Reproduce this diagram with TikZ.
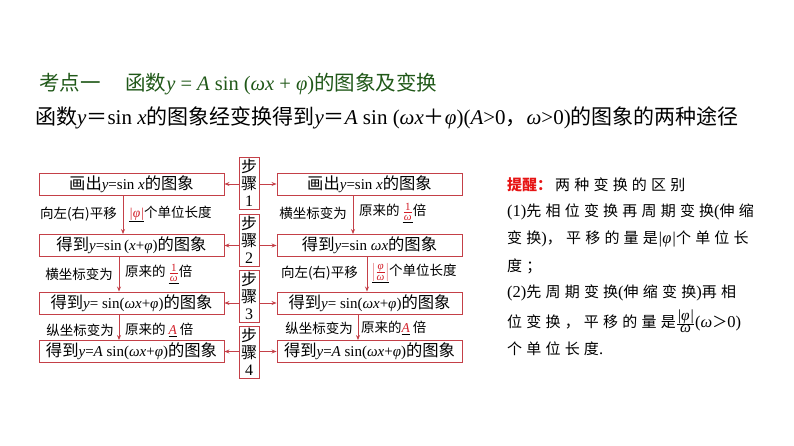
\documentclass[tikz,border=0pt]{standalone}
\usepackage{fontspec}
\setmainfont{Noto Sans CJK SC}
\newfontfamily\tnr{Liberation Serif}
\newfontfamily\tnrs[Scale=0.92]{Liberation Serif}
\newfontfamily\tnrh[Scale=1.1]{Liberation Serif}
\newfontfamily\hintfont[LetterSpace=28]{Noto Sans CJK SC}
\usetikzlibrary{arrows.meta}
\definecolor{boxred}{RGB}{196,64,72}
\definecolor{titlegreen}{RGB}{32,88,24}
\definecolor{hintred}{RGB}{230,20,20}
\definecolor{ansred}{RGB}{210,30,40}
\newcommand\Mi[1]{{\tnr\itshape #1}}
\newcommand\Mr[1]{{\tnr #1}}
\newcommand\ans[1]{\underline{\textcolor{ansred}{#1}}}
\newcommand\mfrac[2]{\frac{\hbox{\fontsize{11}{11}\selectfont #1}}{\hbox{\fontsize{11}{11}\selectfont #2}}}
\newcommand\smallfrac[2]{$\mfrac{#1}{#2}$}
\begin{document}
\begin{tikzpicture}[x=1pt,y=-1pt,
  box/.style={draw=boxred, line width=0.9pt, minimum width=185pt, minimum height=22pt, inner sep=0pt, font=\fontsize{16.3}{18}\selectfont\let\tnr\tnrs},
  stepbox/.style={draw=boxred, line width=0.9pt, minimum width=20pt, minimum height=52pt, inner sep=0pt, align=center, font=\fontsize{16}{16.8}\selectfont},
  arr/.style={draw=boxred, line width=0.8pt, -{Stealth[length=5pt,width=4pt]}},
  lab/.style={inner sep=0pt, font=\fontsize{13.5}{15}\selectfont},
  hint/.style={inner sep=0pt, anchor=west, font=\hintfont\fontsize{15}{17}\selectfont\let\tnr\tnrh}]
\useasboundingbox (0,0) rectangle (794,446);

% title and subtitle
\node[anchor=west, inner sep=0pt, text=titlegreen, font=\fontsize{20.5}{24}\selectfont] (title) at (39,84)
  {考点一\hspace{1.2em}函数\Mi{y}\Mr{ = }\Mi{A}\Mr{ sin (}\Mi{ωx}\Mr{ + }\Mi{φ}\Mr{)}的图象及变换};
\node[anchor=west, inner sep=0pt, font=\fontsize{21}{24}\selectfont] (sub) at (35,118)
  {函数\Mi{y}＝\Mr{sin }\Mi{x}的图象经变换得到\Mi{y}＝\Mi{A}\Mr{ sin (}\Mi{ωx}＋\Mi{φ}\Mr{)(}\Mi{A}\Mr{>0}，\Mi{ω}\Mr{>0)}的图象的两种途径};

% left column
\node[box] (L1) at (131.5,184) {画出\Mi{y}\Mr{=sin }\Mi{x}的图象};
\node[box] (L2) at (131.5,245.5) {得到\Mi{y}\Mr{=sin\,(}\Mi{x}\Mr{+}\Mi{φ}\Mr{)}的图象};
\node[box] (L3) at (131.5,303) {得到\Mi{y}\Mr{= sin(}\Mi{ωx}\Mr{+}\Mi{φ}\Mr{)}的图象};
\node[box] (L4) at (131.5,351.5) {得到\Mi{y}\Mr{=}\Mi{A}\Mr{ sin(}\Mi{ωx}\Mr{+}\Mi{φ}\Mr{)}的图象};

% right column
\node[box] (R1) at (369.5,184) {画出\Mi{y}\Mr{=sin }\Mi{x}的图象};
\node[box] (R2) at (369.5,245.5) {得到\Mi{y}\Mr{=sin }\Mi{ωx}的图象};
\node[box] (R3) at (369.5,303) {得到\Mi{y}\Mr{= sin(}\Mi{ωx}\Mr{+}\Mi{φ}\Mr{)}的图象};
\node[box] (R4) at (369.5,351.5) {得到\Mi{y}\Mr{=}\Mi{A}\Mr{ sin(}\Mi{ωx}\Mr{+}\Mi{φ}\Mr{)}的图象};

% step boxes
\node[stepbox] (S1) at (249,183) {步\\骤\\\Mr{1}};
\node[stepbox] (S2) at (249,240) {步\\骤\\\Mr{2}};
\node[stepbox] (S3) at (249,296) {步\\骤\\\Mr{3}};
\node[stepbox] (S4) at (249,352) {步\\骤\\\Mr{4}};

\foreach \i in {1,2,3,4}{
  \draw[arr] (S\i.west |- L\i.east) -- (L\i.east);
  \draw[arr] (S\i.east |- R\i.west) -- (R\i.west);
}

% vertical arrows
\coordinate (xa) at (123,0);
\coordinate (xb) at (119,0);
\coordinate (xc) at (353,0);
\coordinate (xd) at (367,0);
\coordinate (xe) at (358,0);
\draw[arr] (L1.south -| xa) -- (L2.north -| xa);
\draw[arr] (L2.south -| xb) -- (L3.north -| xb);
\draw[arr] (L3.south -| xb) -- (L4.north -| xb);
\draw[arr] (R1.south -| xc) -- (R2.north -| xc);
\draw[arr] (R2.south -| xd) -- (R3.north -| xd);
\draw[arr] (R3.south -| xe) -- (R4.north -| xe);

% labels left column
\node[lab, anchor=east] (la1) at (117,214) {向左(右)平移};
\node[lab, anchor=west] (lb1) at (129,214) {\ans{\Mi{|φ|}}个单位长度};
\node[lab, anchor=east] (la2) at (113,274) {横坐标变为};
\node[lab, anchor=west] (lb2) at (125,274) {原来的 \ans{\smallfrac{\Mr{1}}{\Mi{ω}}}倍};
\node[lab, anchor=east] (la3) at (114,330) {纵坐标变为};
\node[lab, anchor=west] (lb3) at (125,330) {原来的 \ans{\Mi{A}} 倍};

% labels right column
\node[lab, anchor=east] (ra1) at (347,213) {横坐标变为};
\node[lab, anchor=west] (rb1) at (359,213) {原来的 \ans{\smallfrac{\Mr{1}}{\Mi{ω}}}倍};
\node[lab, anchor=east] (ra2) at (358,273) {向左(右)平移};
\node[lab, anchor=west] (rb2) at (372,273) {\ans{\color{ansred}$\left|\mfrac{\Mi{φ}}{\Mi{ω}}\right|$}个单位长度};
\node[lab, anchor=east] (ra3) at (353,328) {纵坐标变为};
\node[lab, anchor=west] (rb3) at (361,328) {原来的\ans{\Mi{A}} 倍};

% hint text
\node[hint] (h1) at (507,185) {{\color{hintred}\fontspec{Noto Sans CJK SC}\bfseries 提醒：}\hspace{3pt}两种变换的区别};
\node[hint] (h2) at (507,212) {\Mr{(1)}先相位变换再周期变换\Mr{(}伸缩};
\node[hint] (h3) at (507,239) {变换\Mr{)}，平移的量是\Mi{|φ|}个单位长};
\node[hint] (h4) at (507,266) {度；};
\node[hint] (h5) at (507,293) {\Mr{(2)}先周期变换\Mr{(}伸缩变换\Mr{)}再相};
\node[hint] (h6) at (507,321) {位变换，平移的量是$\frac{\hbox{\fontsize{14}{15}\selectfont\Mi{|φ|}}}{\hbox{\fontsize{14}{15}\selectfont\Mi{ω}}}$\Mr{(}\Mi{ω}＞\Mr{0)}};
\node[hint] (h7) at (507,349) {个单位长度\Mr{.}};
\end{tikzpicture}
\end{document}
